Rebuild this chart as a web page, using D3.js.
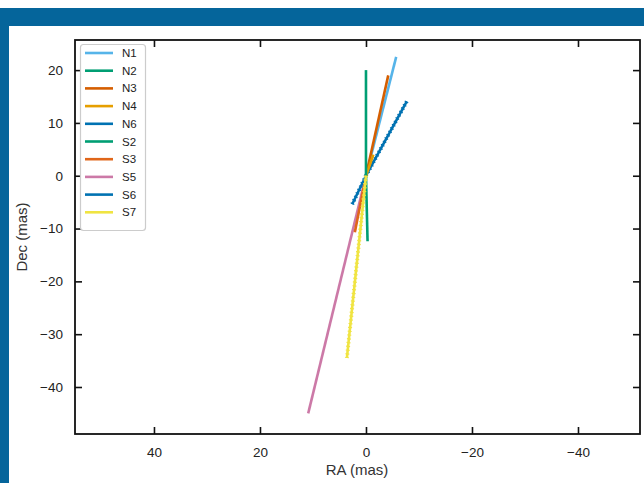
<!DOCTYPE html>
<html><head><meta charset="utf-8">
<script src="https://cdn.jsdelivr.net/npm/d3@7"></script>
<style>
html,body{margin:0;padding:0;background:#fff;}
svg{display:block;font-family:"Liberation Sans",Arial,Helvetica,sans-serif;}
</style></head>
<body><svg id="c" width="644" height="483"></svg>
<script>
// Series names, colors and jet endpoints (RA, Dec in mas)
const names   = ["N1","N2","N3","N4","N6","S2","S3","S5","S6","S7"];
const colors  = ["#56B4E9","#009E73","#D55E00","#E69F00","#0072B2","#009E73","#E0661A","#CC79A7","#0072B2","#F0E442"];
const raStart  = [0, 0, 0, 0, 0, 0, 0, 0, 0, 0];
const decStart = [0, 0, 0, 0, 0, 0, 0, 0, 0, 0];
const raEnd    = [-5.7, 0.0, -4.2, -1.4, -7.7, -0.3, 2.1, 10.9, 2.6, 3.6];
const decEnd   = [22.5, 20.0, 19.0, 4.0, 14.1, -12.4, -10.7, -45.0, -5.4, -34.5];
const beaded   = [false,false,false,false,true,false,false,false,true,true];
const xTicks = [40, 20, 0, -20, -40];
const yTicks = [20, 10, 0, -10, -20, -30, -40];
const drawOrder = [7, 6, 8, 4, 0, 2, 3, 1, 5, 9];

const svg = d3.select("#c");
// frame decoration
svg.append("rect").attr("x",0).attr("y",8).attr("width",644).attr("height",18).attr("fill","#05659B");
svg.append("rect").attr("x",0).attr("y",8).attr("width",9).attr("height",475).attr("fill","#05659B");

const L=75, R=640, T=40, B=434;
const x = d3.scaleLinear().domain([54.9, -51.7]).range([L, R]);
const y = d3.scaleLinear().domain([-48.9, 25.7]).range([B, T]);

const g = svg.append("g");
const fmt = d => d < 0 ? "\u2212" + Math.abs(d) : String(d);

// axes with inward ticks
const ax = g.append("g").attr("transform",`translate(0,${B})`)
  .call(d3.axisBottom(x).tickValues(xTicks).tickSizeInner(-7).tickSizeOuter(0).tickPadding(13).tickFormat(fmt));
const axT = g.append("g").attr("transform",`translate(0,${T})`)
  .call(d3.axisTop(x).tickValues(xTicks).tickSizeInner(-7).tickSizeOuter(0).tickFormat(""));
const ay = g.append("g").attr("transform",`translate(${L},0)`)
  .call(d3.axisLeft(y).tickValues(yTicks).tickSizeInner(-7).tickSizeOuter(0).tickPadding(12).tickFormat(fmt));
const ayR = g.append("g").attr("transform",`translate(${R},0)`)
  .call(d3.axisRight(y).tickValues(yTicks).tickSizeInner(-7).tickSizeOuter(0).tickFormat(""));
[ax,axT,ay,ayR].forEach(a=>{
  a.select(".domain").remove();
  a.selectAll(".tick line").attr("stroke","#111").attr("stroke-width",1.6);
  a.selectAll(".tick text").attr("font-size",13.5).attr("fill","#222");
});
g.append("rect").attr("x",L).attr("y",T).attr("width",R-L).attr("height",B-T)
  .attr("fill","none").attr("stroke","#111").attr("stroke-width",1.8);

// series
drawOrder.forEach(i=>{
  const x1=x(raStart[i]), y1=y(decStart[i]), x2=x(raEnd[i]), y2=y(decEnd[i]);
  g.append("line").attr("x1",x1).attr("y1",y1).attr("x2",x2).attr("y2",y2)
    .attr("stroke",colors[i]).attr("stroke-width",2.6).attr("stroke-linecap","butt");
  if(beaded[i]){
    g.append("line").attr("x1",x1).attr("y1",y1).attr("x2",x2).attr("y2",y2)
      .attr("stroke",colors[i]).attr("stroke-width",4).attr("stroke-dasharray","1.2 2.6");
  }
});

// legend
const lg = svg.append("g");
lg.append("rect").attr("x",80.5).attr("y",44.5).attr("width",65).attr("height",186)
  .attr("rx",3).attr("fill","#fff").attr("stroke","#ccc").attr("stroke-width",1.2);
names.forEach((n,i)=>{
  const yy = 53 + i*17.7;
  lg.append("line").attr("x1",85).attr("x2",113).attr("y1",yy).attr("y2",yy)
    .attr("stroke",colors[i]).attr("stroke-width",2.6);
  lg.append("text").attr("x",122).attr("y",yy+4).attr("font-size",11.5).attr("fill","#222").text(n);
});

// axis titles
svg.append("text").attr("x",357).attr("y",475).attr("text-anchor","middle")
  .attr("font-size",15).attr("fill","#333").text("RA (mas)");
svg.append("text").attr("transform","translate(27,237) rotate(-90)").attr("text-anchor","middle")
  .attr("font-size",15).attr("fill","#333").text("Dec (mas)");
</script></body></html>
